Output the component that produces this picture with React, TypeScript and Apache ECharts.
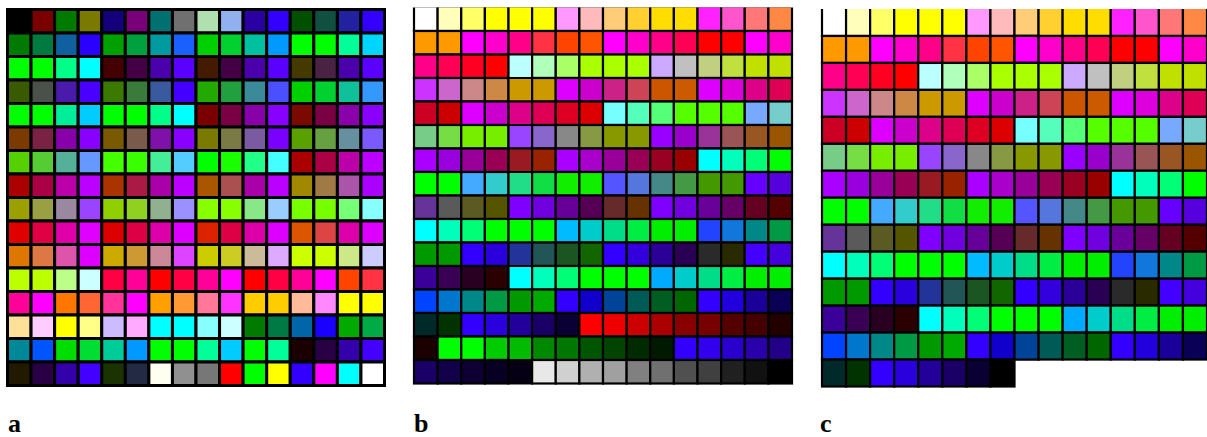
import React, { useEffect, useRef } from "react";
import * as echarts from "echarts";

// Panel a palette (16 x 16, row-major)
const paletteA: string[] = [
  "#000000","#7a0000","#007a00","#7a7a00","#14007a","#7a007a","#007070","#707070","#b0e0b0","#90b0f0","#2a00a0","#3300ff","#005000","#105040","#2222a0","#3300ff",
  "#007a00","#007a40","#1060a0","#2a00ff","#00a000","#00a040","#009aa0","#1a60ff","#00d000","#00d030","#00c0a0","#0099ff","#00ff00","#00ff00","#00ff99","#00d5ff",
  "#00ff00","#00ff00","#00ff88","#00ffff","#440000","#440044","#4a00aa","#5a00ff","#441a00","#440044","#4a00aa","#5a00ff","#443a00","#4a2244","#4a00aa","#5a00ff",
  "#3a5a00","#4a504a","#4a1aaa","#4a00ff","#3a7a00","#3a7a3a","#3a5aa0","#4400ff","#22aa00","#22a040","#3a8a9a","#4a50ff","#00d000","#00d030","#10c09a","#3399ff",
  "#00ff00","#00ff00","#00ee99","#00ccff","#00ff00","#00ff00","#00ff88","#00ffff","#7a0000","#7a0044","#8800aa","#8800ff","#7a0a00","#7a0044","#8a00aa","#8a00ff",
  "#7a3a00","#7a2244","#8800aa","#8800ff","#7a5a00","#7a5a4a","#8010aa","#8800ff","#7a7a00","#7a7a44","#7a5aa0","#7a00ff","#5aa000","#66a040","#6690a0","#7a5aff",
  "#55d000","#55cc33","#55b099","#6699ff","#44ff00","#3aff00","#44ee99","#55ccff","#00ff00","#1aff00","#22ff88","#44ffff","#aa0000","#aa0044","#bb00aa","#bb00ff",
  "#aa0000","#aa0044","#bb00aa","#bb00ff","#aa3300","#aa1a44","#aa00aa","#bb00ff","#aa5500","#aa5050","#aa00aa","#bb00ff","#a08800","#a07a44","#aa55aa","#aa00ff",
  "#9aa000","#99a044","#9a88a0","#9a44ff","#90d000","#90d020","#90b090","#9a90ff","#88ff00","#88ff00","#88e888","#99ccff","#77ff00","#77ff00","#77ff77","#88ffff",
  "#e00000","#e00044","#e000aa","#e000ff","#dd0000","#dd0044","#dd00aa","#dd00ff","#dd2200","#dd0044","#dd00aa","#dd00ff","#dd5500","#dd4444","#dd00aa","#dd00ff",
  "#dd7700","#dd7744","#dd55aa","#dd00ff","#ccaa00","#cc9933","#cc8899","#dd44ff","#cccc00","#cccc22","#ccbb99","#ddaaff","#ccff00","#ccff00","#cce888","#ccccff",
  "#bbff00","#bbff00","#bbff88","#ccffff","#ff0044","#ff0099","#ff0000","#ff0044","#ff0099","#ff00ff","#ff0000","#ff0044","#ff0099","#ff00ff","#ff4400","#ff3344",
  "#ff0099","#ff00ff","#ff7700","#ff6633","#ff3399","#ff00ff","#ffa000","#ff9933","#ff7799","#ff33ff","#ffcc00","#ffcc00","#ffbb99","#ff88ff","#ffff00","#ffff00",
  "#ffe099","#ffccff","#ffff00","#ffff88","#ccbbff","#ffaaff","#00ffff","#00ffff","#88ffff","#ccffff","#007a00","#007a44","#0066aa","#1a00ff","#00aa00","#00aa44",
  "#008899","#0055ff","#00dd00","#00dd33","#00cc99","#0099ff","#00ff00","#00ff00","#00ff99","#00ccff","#00ff00","#00ff99","#1a0000","#2a0044","#3300aa","#4400ff",
  "#221a00","#2a0044","#3300aa","#4400ff","#1a3300","#222a44","#fffff0","#909090","#777777","#ff0000","#00ff00","#ffff00","#3300ff","#ff00ff","#00ffff","#ffffff",
];

// Panel b palette (16 x 16, row-major)
const paletteB: string[] = [
  "#ffffff","#ffffbb","#ffff66","#ffff00","#ffff00","#ffff00","#ff99ff","#ffbbbb","#ffcc77","#ffd030","#ffdd00","#ffdd00","#ff22ff","#ff55cc","#ff7777","#ff8844",
  "#ff9900","#ff9900","#ff00ff","#ff00cc","#ff0088","#ff3344","#ff4400","#ff5500","#ff00ff","#ff00cc","#ff0088","#ff0055","#ff0000","#ff0000","#ff00ff","#ff00cc",
  "#ff0088","#ff0055","#ff0022","#ff0000","#bbffff","#b0ffbb","#aaff66","#aaff00","#aaff00","#aaff00","#ccaaff","#c0c0c0","#c0d080","#c0e040","#c0e000","#c0e000",
  "#cc33ff","#cc66cc","#cc8888","#cc8844","#cc9900","#cc9900","#dd00ff","#cc00cc","#cc2288","#cc4455","#cc5500","#cc5a00","#dd00ff","#dd00dd","#dd0088","#dd0055",
  "#cc0022","#cc0000","#dd00ff","#cc00cc","#dd0088","#dd0055","#dd0022","#dd0000","#77ffff","#55ffbb","#55ff77","#55ff00","#55ff00","#55ff00","#77aaff","#77cccc",
  "#77cc88","#77dd44","#77ee00","#77ee00","#9944ff","#8866cc","#888888","#889944","#889900","#889900","#9900ff","#9900cc","#993399","#995555","#995522","#995500",
  "#aa00ff","#9900dd","#990099","#990055","#991a22","#992200","#aa00ff","#aa00cc","#990099","#990055","#990022","#990000","#00ffff","#00ffbb","#00ff77","#00ff00",
  "#00ff00","#00ff00","#44aaff","#33cccc","#22dd88","#11dd44","#11ee00","#11ee00","#5555ff","#5577dd","#448888","#449944","#449900","#449900","#6600ff","#5500dd",
  "#663399","#5a5a5a","#5a5a22","#555500","#7f00ff","#7000dd","#660099","#550055","#662a2a","#663300","#7f00ff","#7000dd","#6a0099","#660066","#660022","#550000",
  "#00ffff","#00ffbb","#00ff77","#00ff00","#00ff00","#00ff00","#00bbff","#00cccc","#00dd88","#00ee44","#00ee00","#00ee00","#2244ff","#1177dd","#008888","#009944",
  "#009900","#009900","#3300ff","#2a00dd","#223399","#225555","#1a5522","#116600","#3300ff","#3300dd","#2a0099","#2a0055","#2a2a2a","#2a2a00","#4400ff","#4400dd",
  "#3a0099","#3a0055","#2a0022","#2a0000","#00ffff","#00ffbb","#00ff77","#00ff00","#00ff00","#00ff00","#00aaff","#00cccc","#00dd88","#00ee44","#00ee00","#00ee00",
  "#0044ff","#0077cc","#008888","#009944","#009900","#00aa00","#3300ff","#1100cc","#004499","#005a55","#005e22","#006600","#3300ff","#2200dd","#1a0099","#0a0055",
  "#002a2a","#003300","#3300ff","#2a00dd","#220099","#1a0066","#0a0033","#ff0000","#ee0000","#cc0000","#aa0000","#880000","#770000","#550000","#440000","#220000",
  "#1a0000","#00ff00","#00ff00","#00cc00","#00bb00","#008800","#007700","#005500","#004400","#002a00","#001a00","#3300ff","#3300ee","#2a00cc","#2a00aa","#220088",
  "#1a0066","#12004a","#0e0033","#080022","#050014","#e8e8e8","#d0d0d0","#b0b0b0","#a0a0a0","#808080","#707070","#505050","#404040","#202020","#111111","#000000",
];

// Panel c palette: panel b without the red, green and grey ramps
const paletteC: string[] = paletteB.slice(0, 215).concat([paletteB[255]]);

const panelLabels = ["a", "b", "c"];

function cells(colors: string[], cols: number) {
  return colors.map((c, i) => ({ value: [i % cols, Math.floor(i / cols)], itemStyle: { color: c } }));
}

function makeSeries(colors: string[], idx: number, gap: number, openTop: boolean) {
  return {
    type: "custom",
    xAxisIndex: idx,
    yAxisIndex: idx,
    clip: false,
    data: cells(colors, 16),
    renderItem: (params: any, api: any) => {
      const c = api.value(0);
      const r = api.value(1);
      const p0 = api.coord([c, r]);
      const p1 = api.coord([c + 1, r + 1]);
      const x = p0[0], y = p0[1];
      const w = p1[0] - p0[0], h = p1[1] - p0[1];
      const col = colors[params.dataIndex];
      const topGap = openTop && r === 0 ? 0 : gap / 2;
      return {
        type: "group",
        children: [
          { type: "rect", shape: { x: x - gap / 2, y: y - topGap, width: w + gap, height: h + gap / 2 + topGap }, style: { fill: "#000" } },
          { type: "rect", shape: { x: x + gap / 2, y: y + topGap, width: w - gap, height: h - gap / 2 - topGap }, style: { fill: col } },
        ],
      };
    },
  };
}

export default function App() {
  const ref = useRef<HTMLDivElement>(null);
  useEffect(() => {
    if (!ref.current) return;
    const chart = echarts.init(ref.current, null, { renderer: "svg" });
    const grids = [
      { left: 7.5, top: 9.5, width: 377, height: 376 },
      { left: 414, top: 7.5, width: 378, height: 376 },
      { left: 822, top: 9, width: 386, height: 377.5 },
    ];
    const rows = [16, 16, 14];
    chart.setOption({
      animation: false,
      backgroundColor: "#ffffff",
      grid: grids,
      xAxis: grids.map((_, i) => ({ type: "value", min: 0, max: 16, show: false, gridIndex: i })),
      yAxis: grids.map((_, i) => ({ type: "value", min: 0, max: rows[i], inverse: true, show: false, gridIndex: i })),
      series: [
        makeSeries(paletteA, 0, 3, false),
        makeSeries(paletteB, 1, 2.2, true),
        makeSeries(paletteC, 2, 2.2, true),
      ],
      graphic: panelLabels.map((t, i) => ({
        type: "text",
        left: [8, 414, 820][i],
        top: 410,
        style: { text: t, fontSize: 26, fontWeight: "bold", fontFamily: "Liberation Serif", fill: "#000" },
      })),
    });
    return () => chart.dispose();
  }, []);
  return <div ref={ref} style={{ position: "fixed", left: 0, top: 0, width: 1207, height: 437 }} />;
}
